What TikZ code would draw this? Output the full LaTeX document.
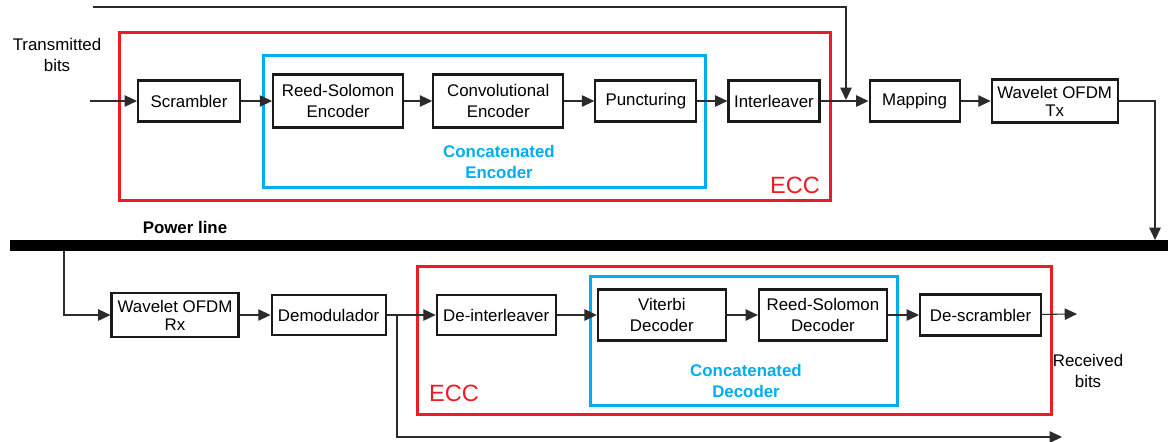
\documentclass[tikz,border=0pt]{standalone}
\usepackage{fontspec}
\setsansfont{Liberation Sans}
\usetikzlibrary{positioning, arrows.meta}

\definecolor{eccred}{RGB}{237,28,36}
\definecolor{catblue}{RGB}{0,174,239}
\definecolor{wire}{RGB}{45,42,43}

\begin{document}
\begin{tikzpicture}[
  font=\sffamily\fontsize{9.6}{11.5}\selectfont,
  blk/.style={draw=black!90, line width=1.2pt, fill=white, align=center,
              minimum height=0.82cm, inner sep=2pt},
  tall/.style={blk, minimum width=2.6cm, minimum height=1.06cm},
  eccbox/.style={draw=eccred, line width=1.3pt, inner sep=0pt},
  catbox/.style={draw=catblue, line width=1.3pt, inner sep=0pt},
  ecclbl/.style={text=eccred, font=\sffamily\fontsize{13.4}{15}\selectfont},
  catlbl/.style={text=catblue, align=center, font=\sffamily\bfseries\fontsize{9.6}{11.5}\selectfont},
  link/.style={-{Triangle[length=7pt,width=6.5pt]}, line width=0.6pt, draw=wire},
]
\useasboundingbox (0,0) rectangle (23.36,-8.82);

% frames
\node[eccbox, minimum width=14.22cm, minimum height=3.36cm] (ecctx) at (9.5,-2.33) {};
\node[catbox, minimum width=8.84cm, minimum height=2.64cm] (enc) at (9.69,-2.43) {};
\node[eccbox, minimum width=12.68cm, minimum height=2.96cm] (eccrx) at (14.69,-6.81) {};
\node[catbox, minimum width=6.14cm, minimum height=2.58cm] (dec) at (14.88,-6.82) {};

\node[ecclbl] (ecctxl) at (15.9,-3.7) {ECC};
\node[ecclbl] (eccrxl) at (9.08,-7.86) {ECC};
\node[catlbl] (encl) at (9.98,-3.24) {Concatenated\\Encoder};
\node[catlbl] (decl) at (14.92,-7.62) {Concatenated\\Decoder};

% transmitter chain
\node[blk, minimum width=2.04cm] (scr) at (3.78,-2.02) {Scrambler};
\node[tall, right=0.62cm of scr] (rse) {Reed-Solomon\\Encoder};
\node[tall, right=0.56cm of rse] (conv) {Convolutional\\Encoder};
\node[blk, minimum width=2.02cm, right=0.6cm of conv] (punc) {Puncturing};
\node[blk, minimum width=1.82cm, right=0.6cm of punc] (intl) {Interleaver};
\node[blk, minimum width=1.8cm, right=0.96cm of intl] (map) {Mapping};
\node[blk, minimum width=2.52cm, minimum height=0.86cm, right=0.6cm of map] (tx) {Wavelet OFDM\\[-1.3pt]Tx};

\node[align=center] (tbits) at (1.14,-1.1) {Transmitted\\bits};
\coordinate (tin) at (1.8,-2.02);
\coordinate (ttop) at (1.86,-0.14);
\coordinate (mrg) at (16.92,-2.0);

% power line
\node[fill=black, minimum width=23.16cm, minimum height=0.22cm, inner sep=0pt] (pwr) at (11.78,-4.91) {};
\node[font=\sffamily\bfseries\fontsize{9.6}{11.5}\selectfont] (pwrl) at (3.7,-4.54) {Power line};
\coordinate (pin) at (23.1,-4.8);
\coordinate (pout) at (1.28,-5.02);

% receiver chain
\node[blk, minimum width=2.54cm, minimum height=0.88cm] (rx) at (3.5,-6.3) {Wavelet OFDM\\[-1.3pt]Rx};
\node[blk, minimum width=2.28cm, minimum height=0.8cm, right=0.62cm of rx] (dem) {Demodulador};
\node[blk, minimum width=2.38cm, minimum height=0.8cm, right=0.98cm of dem] (deint) {De-interleaver};
\node[tall, minimum width=2.56cm, minimum height=1.02cm, right=0.8cm of deint] (vit) {Viterbi\\Decoder};
\node[tall, minimum width=2.56cm, minimum height=1.02cm, right=0.62cm of vit] (rsd) {Reed-Solomon\\Decoder};
\node[blk, minimum width=2.42cm, right=0.62cm of rsd] (dsc) {De-scrambler};

\coordinate (rout) at (21.54,-6.28);
\coordinate (brk) at (7.94,-6.28);
\coordinate (bend) at (21.24,-8.74);
\node[align=center] (rbits) at (21.76,-7.42) {Received\\bits};

% connectors
\draw[link] (tin) -- (scr);
\draw[link] (scr) -- (rse);
\draw[link] (rse) -- (conv);
\draw[link] (conv) -- (punc);
\draw[link] (punc) -- (intl);
\draw[link] (intl) -- (map);
\draw[link] (ttop) -| (mrg);
\draw[link] (map) -- (tx);
\draw[link] (tx.east) -| (pin);
\draw[link] (pout) |- (rx.west);
\draw[link] (rx) -- (dem);
\draw[link] (dem) -- (deint);
\draw[link] (brk) |- (bend);
\draw[link] (deint) -- (vit);
\draw[link] (vit) -- (rsd);
\draw[link] (rsd) -- (dsc);
\draw[link] (dsc) -- (rout);

\end{tikzpicture}
\end{document}
